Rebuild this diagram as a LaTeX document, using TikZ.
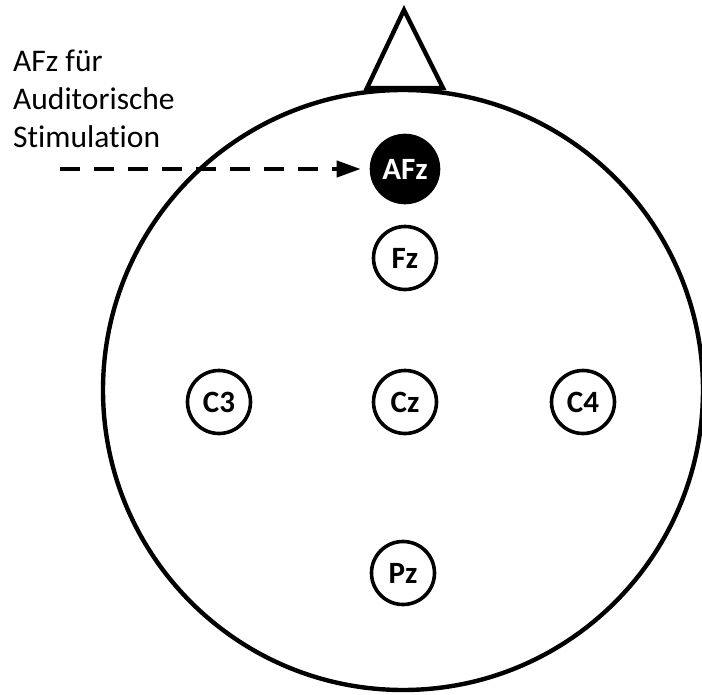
\documentclass[tikz,border=0pt]{standalone}
\usepackage{fontspec}
\setmainfont{Carlito}[Ligatures=NoCommon]
\usetikzlibrary{arrows.meta}
\begin{document}
\begin{tikzpicture}[x=1pt,y=-1pt,
  electrode/.style={circle,draw=black,line width=3.6pt,minimum size=63pt,inner sep=0pt,font=\fontsize{31}{33}\selectfont\bfseries},
  afz/.style={electrode,fill=black,text=white,minimum size=67pt},
  headline/.style={line width=4.4pt},
  lbl/.style={anchor=base west,inner sep=0pt,font=\fontsize{31.5}{33}\selectfont}]
\useasboundingbox (0,0) rectangle (702,695);
% nose
\draw[headline,line join=miter] (367,88) -- (404,10) -- (443,88) -- cycle;
% head
\draw[headline,fill=white] (403,390) circle[radius=300];
% electrodes
\node[afz] (AFz) at (405,169) {AFz};
\node[electrode] (Fz) at (405,258) {Fz};
\node[electrode] (C3) at (219,402) {C3};
\node[electrode] (Cz) at (405,402) {Cz};
\node[electrode] (C4) at (583,402) {C4};
\node[electrode] (Pz) at (403,573) {Pz};
% label
\node[lbl] (t1) at (13,72) {AFz für};
\node[lbl] (t2) at (13,110) {Auditorische};
\node[lbl] (t3) at (13,148) {Stimulation};
\coordinate (start) at (60,169);
\draw[line width=4pt,dash pattern=on 20pt off 14pt,-{Triangle[length=24pt,width=16pt]},shorten >=9pt] (start) -- (AFz.west);
\end{tikzpicture}
\end{document}
